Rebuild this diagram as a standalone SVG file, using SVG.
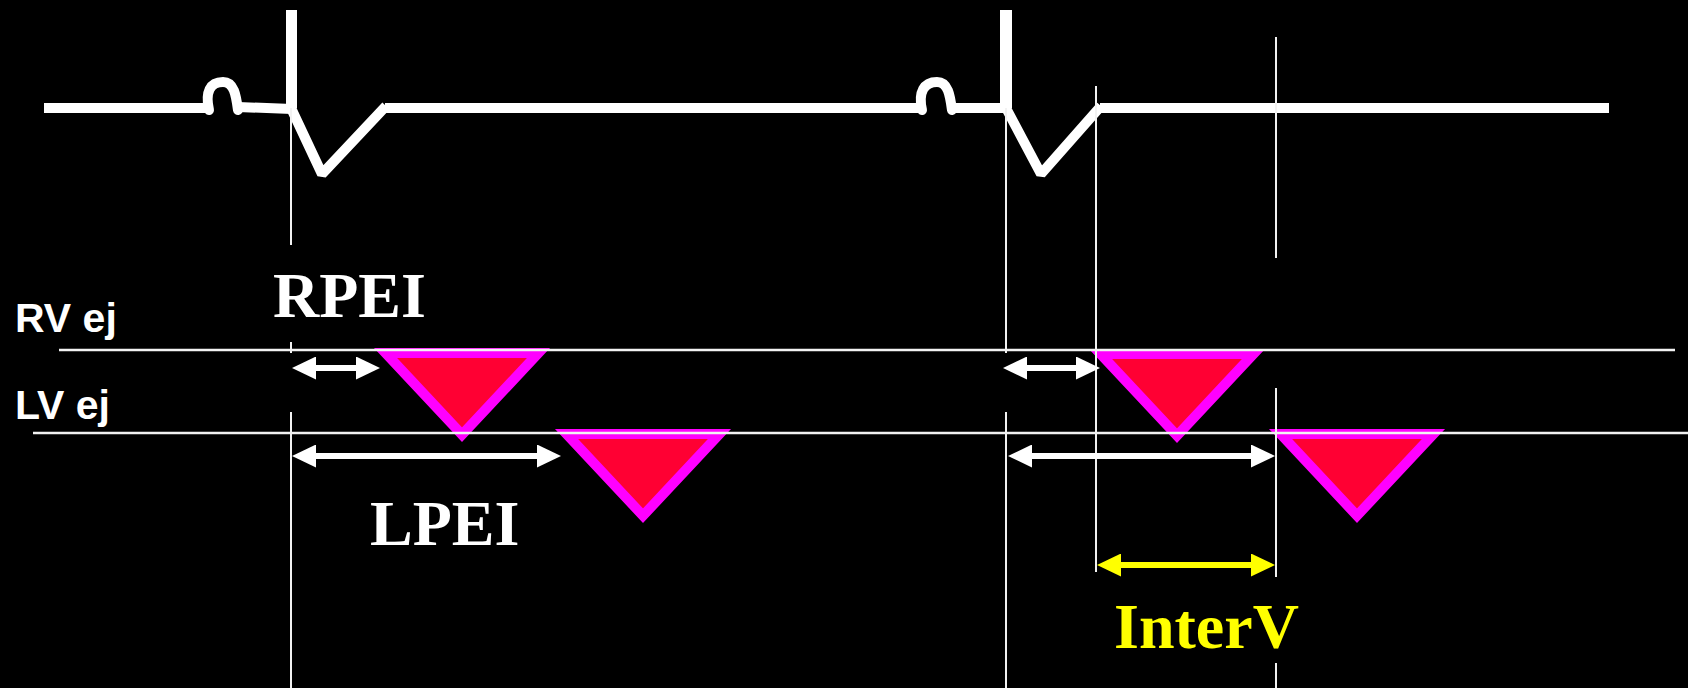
<svg xmlns="http://www.w3.org/2000/svg" width="1688" height="688" viewBox="0 0 1688 688">
  <style>
    .ecg { fill: none; stroke: #FFFFFF; stroke-width: 10; stroke-linejoin: bevel; }
    .pw { fill: none; stroke: #FFFFFF; stroke-width: 10; stroke-linecap: round; }
    .thin { stroke: #F2F2F2; stroke-width: 2; fill: none; }
    .track { stroke: #F2F2F2; stroke-width: 2.4; fill: none; }
    .tri { fill: #FF0033; stroke: #FF00FF; stroke-width: 10; stroke-linejoin: miter; }
    .arr { stroke: #FFFFFF; stroke-width: 6; fill: none; marker-start: url(#hw); marker-end: url(#hw); }
    .arry { stroke: #FFFF00; stroke-width: 6; fill: none; marker-start: url(#hy); marker-end: url(#hy); }
    .lbl { font-family: "Liberation Sans", Arial, sans-serif; font-weight: bold; font-size: 41px; fill: #FFFFFF; }
    .big { font-family: "Liberation Serif", "Times New Roman", serif; font-weight: bold; font-size: 64px; fill: #FFFFFF; }
  </style>
  <defs>
    <path id="tri" d="M11.5,5 L164.5,5 L88,86.7 Z"/>
    <marker id="hw" markerUnits="userSpaceOnUse" viewBox="0 0 24 23" markerWidth="24" markerHeight="23" refX="4" refY="11.5" orient="auto-start-reverse">
      <path d="M0,0 L24,11.5 L0,23 Z" fill="#FFFFFF"/>
    </marker>
    <marker id="hy" markerUnits="userSpaceOnUse" viewBox="0 0 24 23" markerWidth="24" markerHeight="23" refX="4" refY="11.5" orient="auto-start-reverse">
      <path d="M0,0 L24,11.5 L0,23 Z" fill="#FFFF00"/>
    </marker>
  </defs>
  <rect x="0" y="0" width="1688" height="688" fill="#000000"/>

  <g id="ecg">
    <line class="ecg" x1="44" y1="108" x2="206" y2="108"/>
    <path class="pw" d="M209,110 C205,92 210,82 223,82 C234,82 236,95 238,110"/>
    <line class="ecg" x1="238" y1="107" x2="292" y2="109"/>
    <rect x="286" y="10" width="11" height="98" fill="#FFFFFF"/>
    <polyline class="ecg" points="291,108 322,174 386,106"/>
    <line class="ecg" x1="385" y1="108" x2="920" y2="108"/>
    <path class="pw" d="M922,110 C918,92 924,82 937,82 C948,82 950,95 952,110"/>
    <line class="ecg" x1="952" y1="108" x2="1007" y2="108"/>
    <rect x="1000" y="10" width="12" height="98" fill="#FFFFFF"/>
    <polyline class="ecg" points="1006,108 1041,174 1101,106"/>
    <line class="ecg" x1="1100" y1="108" x2="1609" y2="108"/>
  </g>

  <g id="triangles">
    <use id="rv-ej-1" href="#tri" class="tri" transform="translate(374,348)"/>
    <use id="lv-ej-1" href="#tri" class="tri" transform="translate(555,429)"/>
    <use id="rv-ej-2" href="#tri" class="tri" transform="translate(1089,349)"/>
    <use id="lv-ej-2" href="#tri" class="tri" transform="translate(1269,429)"/>
  </g>

  <g id="tracks">
    <line class="track" x1="59" y1="350" x2="1675" y2="350"/>
    <line class="track" x1="33" y1="433" x2="1688" y2="433"/>
  </g>

  <g id="markers-vertical">
    <line class="thin" x1="291" y1="108" x2="291" y2="245"/>
    <line class="thin" x1="291" y1="342" x2="291" y2="353"/>
    <line class="thin" x1="291" y1="412" x2="291" y2="688"/>
    <line class="thin" x1="1006" y1="108" x2="1006" y2="353"/>
    <line class="thin" x1="1006" y1="412" x2="1006" y2="688"/>
    <line class="thin" x1="1096" y1="86" x2="1096" y2="572"/>
    <line class="thin" x1="1276" y1="37" x2="1276" y2="258"/>
    <line class="thin" x1="1276" y1="388" x2="1276" y2="577"/>
    <line class="thin" x1="1276" y1="663" x2="1276" y2="688"/>
  </g>

  <g id="connectors">
    <line class="arr" x1="312" y1="368" x2="360" y2="368"/>
    <line class="arr" x1="312" y1="456" x2="541" y2="456"/>
    <line class="arr" x1="1023" y1="368" x2="1080" y2="368"/>
    <line class="arr" x1="1028" y1="456" x2="1255" y2="456"/>
    <line class="arry" x1="1117" y1="565" x2="1255" y2="565"/>
  </g>

  <g id="labels">
    <text class="lbl" x="15" y="332">RV ej</text>
    <text class="lbl" x="15" y="419">LV ej</text>
    <text id="rpei" class="big" x="273" y="317">RPEI</text>
    <text id="lpei" class="big" x="370" y="545">LPEI</text>
    <text id="interv" class="big" x="1114" y="648" style="fill:#FFFF00">InterV</text>
  </g>
</svg>
